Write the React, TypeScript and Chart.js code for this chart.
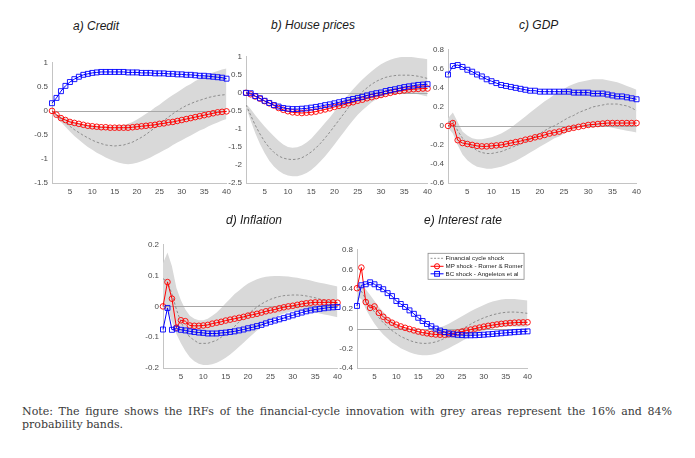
import React, { useEffect, useRef } from 'react';
import { Chart, registerables } from 'chart.js';

Chart.register(...registerables);

// horizons (quarters) and x tick labels
const horizons = [1, 2, 3, 4, 5, 6, 7, 8, 9, 10, 11, 12, 13, 14, 15, 16, 17, 18, 19, 20, 21, 22, 23, 24, 25, 26, 27, 28, 29, 30, 31, 32, 33, 34, 35, 36, 37, 38, 39, 40];
const xTicks = [5, 10, 15, 20, 25, 30, 35, 40];

// a) Credit
const creditTicks = [-1.5, -1, -0.5, 0, 0.5, 1];
const creditFin = [-0.03, -0.1, -0.17, -0.25, -0.32, -0.39, -0.45, -0.51, -0.56, -0.61, -0.65, -0.68, -0.71, -0.72, -0.73, -0.72, -0.71, -0.68, -0.65, -0.6, -0.55, -0.49, -0.42, -0.35, -0.27, -0.2, -0.13, -0.06, 0, 0.06, 0.11, 0.15, 0.19, 0.22, 0.25, 0.28, 0.3, 0.32, 0.33, 0.34];
const creditHigh = [-0.01, -0.06, -0.11, -0.15, -0.19, -0.22, -0.25, -0.27, -0.29, -0.3, -0.31, -0.32, -0.32, -0.32, -0.32, -0.31, -0.29, -0.27, -0.23, -0.18, -0.12, -0.06, 0, 0.07, 0.13, 0.2, 0.27, 0.33, 0.39, 0.45, 0.51, 0.56, 0.62, 0.67, 0.72, 0.76, 0.8, 0.83, 0.86, 0.88];
const creditLow = [-0.04, -0.13, -0.23, -0.33, -0.43, -0.52, -0.6, -0.68, -0.75, -0.81, -0.87, -0.92, -0.97, -1.01, -1.05, -1.08, -1.1, -1.11, -1.1, -1.08, -1.05, -1.01, -0.97, -0.92, -0.87, -0.82, -0.77, -0.71, -0.66, -0.61, -0.56, -0.51, -0.46, -0.41, -0.37, -0.32, -0.28, -0.24, -0.2, -0.17];
const creditMP = [0, -0.08, -0.15, -0.19, -0.23, -0.25, -0.27, -0.29, -0.31, -0.32, -0.33, -0.34, -0.34, -0.35, -0.35, -0.35, -0.35, -0.35, -0.34, -0.33, -0.32, -0.31, -0.3, -0.29, -0.27, -0.26, -0.24, -0.23, -0.21, -0.19, -0.17, -0.15, -0.13, -0.11, -0.09, -0.07, -0.05, -0.03, -0.02, -0.01];
const creditBC = [0.16, 0.27, 0.41, 0.52, 0.6, 0.66, 0.71, 0.75, 0.77, 0.79, 0.8, 0.81, 0.81, 0.81, 0.81, 0.81, 0.81, 0.8, 0.8, 0.8, 0.79, 0.79, 0.79, 0.78, 0.78, 0.78, 0.77, 0.77, 0.76, 0.76, 0.75, 0.75, 0.74, 0.73, 0.73, 0.72, 0.71, 0.7, 0.69, 0.67];

// b) House prices
const houseTicks = [-2.5, -2, -1.5, -1, -0.5, 0, 0.5, 1];
const houseFin = [-0.33, -0.62, -0.9, -1.14, -1.35, -1.52, -1.65, -1.75, -1.81, -1.84, -1.85, -1.84, -1.8, -1.73, -1.64, -1.53, -1.4, -1.25, -1.09, -0.92, -0.75, -0.58, -0.41, -0.25, -0.1, 0.03, 0.14, 0.24, 0.32, 0.38, 0.43, 0.46, 0.48, 0.49, 0.49, 0.49, 0.48, 0.46, 0.43, 0.4];
const houseHigh = [-0.3, -0.45, -0.62, -0.78, -0.93, -1.07, -1.2, -1.33, -1.43, -1.5, -1.52, -1.51, -1.46, -1.38, -1.27, -1.13, -0.98, -0.83, -0.68, -0.52, -0.36, -0.2, -0.05, 0.1, 0.24, 0.37, 0.49, 0.6, 0.7, 0.79, 0.86, 0.92, 0.96, 0.99, 1.0, 1.0, 0.99, 0.97, 0.95, 0.93];
const houseLow = [-0.4, -0.77, -1.12, -1.42, -1.67, -1.88, -2.04, -2.16, -2.24, -2.29, -2.31, -2.31, -2.28, -2.22, -2.14, -2.03, -1.9, -1.76, -1.6, -1.43, -1.26, -1.09, -0.92, -0.76, -0.61, -0.48, -0.37, -0.26, -0.18, -0.12, -0.07, -0.04, -0.02, -0.01, -0.01, -0.01, -0.02, -0.04, -0.07, -0.1];
const houseMP = [0, -0.04, -0.1, -0.16, -0.23, -0.29, -0.35, -0.42, -0.47, -0.51, -0.54, -0.55, -0.56, -0.55, -0.54, -0.52, -0.49, -0.46, -0.43, -0.39, -0.36, -0.33, -0.29, -0.26, -0.22, -0.19, -0.15, -0.12, -0.09, -0.06, -0.03, 0, 0.03, 0.05, 0.07, 0.09, 0.1, 0.11, 0.12, 0.12];
const houseBC = [0, -0.01, -0.09, -0.15, -0.22, -0.28, -0.34, -0.38, -0.42, -0.44, -0.45, -0.45, -0.44, -0.43, -0.41, -0.39, -0.37, -0.34, -0.32, -0.29, -0.26, -0.23, -0.2, -0.17, -0.14, -0.11, -0.07, -0.04, -0.01, 0.01, 0.05, 0.08, 0.1, 0.13, 0.16, 0.18, 0.2, 0.22, 0.23, 0.24];

// c) GDP
const gdpTicks = [-0.6, -0.4, -0.2, 0, 0.2, 0.4, 0.6, 0.8];
const gdpFin = [0.04, 0.05, -0.05, -0.13, -0.18, -0.22, -0.26, -0.28, -0.29, -0.29, -0.28, -0.27, -0.25, -0.23, -0.21, -0.19, -0.16, -0.14, -0.11, -0.08, -0.05, -0.02, 0, 0.03, 0.06, 0.09, 0.11, 0.14, 0.16, 0.18, 0.2, 0.21, 0.22, 0.23, 0.23, 0.23, 0.22, 0.21, 0.19, 0.16];
const gdpHigh = [0.08, 0.14, 0.04, -0.06, -0.1, -0.13, -0.14, -0.14, -0.13, -0.12, -0.1, -0.08, -0.05, -0.02, 0.02, 0.06, 0.1, 0.14, 0.18, 0.22, 0.26, 0.29, 0.33, 0.36, 0.39, 0.42, 0.44, 0.46, 0.47, 0.48, 0.49, 0.49, 0.49, 0.48, 0.47, 0.46, 0.44, 0.42, 0.4, 0.38];
const gdpLow = [-0.02, -0.08, -0.2, -0.3, -0.36, -0.4, -0.43, -0.44, -0.45, -0.45, -0.44, -0.43, -0.41, -0.39, -0.37, -0.34, -0.31, -0.28, -0.25, -0.22, -0.19, -0.16, -0.13, -0.11, -0.08, -0.06, -0.04, -0.02, -0.01, 0, 0, 0, 0, -0.01, -0.02, -0.03, -0.04, -0.05, -0.06, -0.07];
const gdpMP = [0, 0.03, -0.15, -0.18, -0.19, -0.2, -0.21, -0.215, -0.215, -0.21, -0.205, -0.2, -0.19, -0.18, -0.17, -0.16, -0.145, -0.135, -0.12, -0.11, -0.095, -0.08, -0.07, -0.06, -0.045, -0.03, -0.02, -0.01, 0, 0.01, 0.015, 0.02, 0.025, 0.03, 0.03, 0.03, 0.03, 0.03, 0.03, 0.03];
const gdpBC = [0.54, 0.63, 0.64, 0.62, 0.59, 0.57, 0.54, 0.52, 0.49, 0.47, 0.45, 0.43, 0.42, 0.41, 0.4, 0.39, 0.38, 0.37, 0.37, 0.36, 0.36, 0.36, 0.36, 0.36, 0.36, 0.36, 0.35, 0.35, 0.35, 0.35, 0.34, 0.34, 0.34, 0.33, 0.32, 0.31, 0.31, 0.3, 0.29, 0.28];

// d) Inflation
const inflTicks = [-0.2, -0.1, 0, 0.1, 0.2];
const inflFin = [0.09, 0.08, 0.04, -0.01, -0.05, -0.08, -0.1, -0.11, -0.12, -0.12, -0.12, -0.115, -0.11, -0.1, -0.09, -0.08, -0.065, -0.05, -0.037, -0.025, -0.013, -0.002, 0.008, 0.016, 0.023, 0.028, 0.032, 0.035, 0.036, 0.037, 0.037, 0.036, 0.034, 0.031, 0.028, 0.024, 0.02, 0.016, 0.013, 0.01];
const inflHigh = [0.14, 0.175, 0.13, 0.06, 0.02, -0.01, -0.03, -0.04, -0.045, -0.045, -0.04, -0.03, -0.02, -0.005, 0.01, 0.025, 0.04, 0.052, 0.064, 0.074, 0.082, 0.088, 0.093, 0.096, 0.098, 0.099, 0.099, 0.098, 0.097, 0.095, 0.093, 0.09, 0.087, 0.084, 0.08, 0.077, 0.074, 0.071, 0.068, 0.065];
const inflLow = [-0.01, -0.01, -0.05, -0.09, -0.12, -0.145, -0.165, -0.178, -0.186, -0.19, -0.19, -0.188, -0.183, -0.176, -0.167, -0.156, -0.144, -0.131, -0.118, -0.104, -0.091, -0.078, -0.066, -0.055, -0.045, -0.036, -0.029, -0.023, -0.019, -0.016, -0.015, -0.015, -0.016, -0.018, -0.02, -0.023, -0.026, -0.029, -0.032, -0.035];
const inflMP = [0, 0.079, 0.025, -0.069, -0.045, -0.048, -0.062, -0.063, -0.063, -0.062, -0.06, -0.056, -0.053, -0.05, -0.046, -0.043, -0.04, -0.037, -0.034, -0.03, -0.027, -0.024, -0.02, -0.016, -0.013, -0.01, -0.006, -0.003, 0, 0.002, 0.005, 0.008, 0.01, 0.012, 0.013, 0.013, 0.013, 0.013, 0.013, 0.012];
const inflBC = [-0.075, -0.005, -0.076, -0.072, -0.076, -0.078, -0.081, -0.083, -0.085, -0.086, -0.088, -0.088, -0.088, -0.086, -0.085, -0.083, -0.081, -0.078, -0.075, -0.071, -0.068, -0.064, -0.06, -0.055, -0.05, -0.046, -0.042, -0.038, -0.033, -0.029, -0.024, -0.02, -0.016, -0.013, -0.01, -0.008, -0.006, -0.004, -0.003, -0.002];

// e) Interest rate
const rateTicks = [-0.4, -0.2, 0, 0.2, 0.4, 0.6, 0.8];
const rateFin = [0.4, 0.38, 0.3, 0.23, 0.17, 0.11, 0.06, 0.02, -0.02, -0.05, -0.08, -0.1, -0.12, -0.135, -0.145, -0.15, -0.15, -0.145, -0.135, -0.12, -0.1, -0.08, -0.055, -0.03, -0.005, 0.02, 0.045, 0.07, 0.09, 0.11, 0.125, 0.14, 0.15, 0.16, 0.165, 0.168, 0.168, 0.165, 0.16, 0.155];
const rateHigh = [0.45, 0.45, 0.4, 0.34, 0.28, 0.22, 0.17, 0.12, 0.08, 0.05, 0.02, 0, -0.02, -0.03, -0.035, -0.035, -0.03, -0.02, -0.005, 0.01, 0.03, 0.05, 0.075, 0.1, 0.125, 0.15, 0.175, 0.2, 0.22, 0.24, 0.26, 0.275, 0.285, 0.295, 0.3, 0.3, 0.3, 0.295, 0.29, 0.285];
const rateLow = [0.32, 0.3, 0.2, 0.12, 0.05, -0.01, -0.06, -0.1, -0.14, -0.17, -0.2, -0.22, -0.24, -0.255, -0.265, -0.27, -0.27, -0.265, -0.255, -0.24, -0.22, -0.2, -0.175, -0.15, -0.125, -0.1, -0.08, -0.06, -0.04, -0.025, -0.01, 0, 0.01, 0.015, 0.02, 0.022, 0.022, 0.02, 0.018, 0.015];
const rateMP = [0.41, 0.62, 0.27, 0.21, 0.225, 0.16, 0.12, 0.085, 0.06, 0.04, 0.022, 0.008, -0.005, -0.018, -0.03, -0.04, -0.048, -0.055, -0.06, -0.062, -0.062, -0.058, -0.05, -0.04, -0.03, -0.02, -0.01, 0, 0.01, 0.02, 0.028, 0.035, 0.042, 0.048, 0.053, 0.057, 0.06, 0.062, 0.063, 0.064];
const rateBC = [0.23, 0.44, 0.45, 0.47, 0.45, 0.42, 0.4, 0.36, 0.33, 0.28, 0.25, 0.22, 0.185, 0.15, 0.11, 0.077, 0.047, 0.024, 0, -0.02, -0.035, -0.048, -0.058, -0.063, -0.066, -0.068, -0.068, -0.067, -0.065, -0.062, -0.058, -0.055, -0.051, -0.047, -0.043, -0.04, -0.036, -0.033, -0.03, -0.028];

const legendLabels = ['Financial cycle shock', 'MP shock - Romer & Romer', 'BC shock - Angeletos et al'];

const RED = '#ff0000';
const BLUE = '#0000ff';
const GREY = '#7a7a7a';
const BAND = '#d9d9d9';
const SANS = '"Liberation Sans", Arial, sans-serif';

const Y_AXIS_W = 30;
const X_AXIS_H = 16;
const PAD = 8;

const toPoints = (vals: number[]) => horizons.map((h, i) => ({ x: h, y: vals[i] }));

// zero line drawn over the band but under the curves
const zeroLine = {
  id: 'zeroLine',
  beforeDatasetDraw(chart: any, args: any) {
    if (args.index !== 2) return;
    const { ctx, chartArea } = chart;
    const y = Math.round(chart.scales.y.getPixelForValue(0)) + 0.5;
    ctx.save();
    ctx.strokeStyle = '#a8a8a8';
    ctx.lineWidth = 1;
    ctx.beginPath();
    ctx.moveTo(chartArea.left, y);
    ctx.lineTo(chartArea.right, y);
    ctx.stroke();
    ctx.restore();
  },
};

// MATLAB-style boxed legend in the upper right of the plot
const boxLegend = {
  id: 'boxLegend',
  afterDatasetsDraw(chart: any) {
    const { ctx, chartArea } = chart;
    const w = 96;
    const h = 26;
    const left = chartArea.right - 4 - w;
    const top = chartArea.top + 3;
    ctx.save();
    ctx.fillStyle = '#ffffff';
    ctx.fillRect(left, top, w, h);
    ctx.strokeStyle = '#8a8a8a';
    ctx.lineWidth = 0.8;
    ctx.strokeRect(left + 0.5, top + 0.5, w, h);
    ctx.font = `6.2px ${SANS}`;
    ctx.textBaseline = 'middle';
    const rows = [5.5, 13.5, 21];
    const colors = [GREY, RED, BLUE];
    rows.forEach((dy, i) => {
      const y = top + dy;
      const x0 = left + 3;
      const x1 = left + 16;
      ctx.strokeStyle = colors[i];
      ctx.lineWidth = i === 0 ? 0.8 : 1;
      ctx.setLineDash(i === 0 ? [2, 1.5] : []);
      ctx.beginPath();
      ctx.moveTo(x0, y);
      ctx.lineTo(x1, y);
      ctx.stroke();
      ctx.setLineDash([]);
      const cx = (x0 + x1) / 2;
      if (i === 1) {
        ctx.beginPath();
        ctx.arc(cx, y, 2.6, 0, Math.PI * 2);
        ctx.stroke();
      } else if (i === 2) {
        ctx.strokeRect(cx - 2.4, y - 2.4, 4.8, 4.8);
      }
      ctx.fillStyle = '#222222';
      ctx.fillText(legendLabels[i], left + 18, y + 0.3);
    });
    ctx.restore();
  },
};

interface PanelProps {
  title: string;
  titleLeft: number;
  titleTop: number;
  area: [number, number, number, number]; // plot area: left, top, width, height
  yMin: number;
  yMax: number;
  yTicks: number[];
  fin: number[];
  high: number[];
  low: number[];
  mp: number[];
  bc: number[];
  legend?: boolean;
}

const Panel: React.FC<PanelProps> = (p) => {
  const canvasRef = useRef<HTMLCanvasElement | null>(null);

  useEffect(() => {
    const canvas = canvasRef.current;
    if (!canvas) return;

    const chart = new Chart(canvas, {
      type: 'line',
      data: {
        datasets: [
          { label: 'high', data: toPoints(p.high), fill: '+1', backgroundColor: BAND, borderWidth: 0, pointRadius: 0, order: 5 },
          { label: 'low', data: toPoints(p.low), fill: false, borderWidth: 0, pointRadius: 0, order: 6 },
          {
            label: legendLabels[0],
            data: toPoints(p.fin),
            borderColor: GREY,
            borderWidth: 0.8,
            borderDash: [2.5, 2],
            pointRadius: 0,
            fill: false,
            order: 3,
          },
          {
            label: legendLabels[1],
            data: toPoints(p.mp),
            borderColor: RED,
            borderWidth: 1,
            pointStyle: 'circle',
            pointRadius: 2.8,
            pointBorderWidth: 0.9,
            pointBorderColor: RED,
            pointBackgroundColor: 'rgba(0,0,0,0)',
            fill: false,
            clip: false,
            order: 2,
          },
          {
            label: legendLabels[2],
            data: toPoints(p.bc),
            borderColor: BLUE,
            borderWidth: 1,
            pointStyle: 'rect',
            pointRadius: 3.5,
            pointBorderWidth: 0.9,
            pointBorderColor: BLUE,
            pointBackgroundColor: 'rgba(0,0,0,0)',
            fill: false,
            clip: false,
            order: 1,
          },
        ],
      },
      options: {
        responsive: true,
        maintainAspectRatio: false,
        animation: false,
        events: [],
        layout: { padding: { top: PAD, right: PAD, left: 0, bottom: 0 } },
        plugins: { legend: { display: false }, tooltip: { enabled: false } },
        elements: { line: { tension: 0 } },
        scales: {
          x: {
            type: 'linear',
            min: 1,
            max: 40,
            afterBuildTicks: (s: any) => {
              s.ticks = xTicks.map((v) => ({ value: v }));
            },
            afterFit: (s: any) => {
              s.height = X_AXIS_H;
            },
            grid: { display: false, drawTicks: false },
            border: { display: true, color: '#c4c4c4', width: 1 },
            ticks: { padding: 4, color: '#4a4a4a', font: { family: SANS, size: 8 }, maxRotation: 0, autoSkip: false },
          },
          y: {
            min: p.yMin,
            max: p.yMax,
            afterBuildTicks: (s: any) => {
              s.ticks = p.yTicks.map((v) => ({ value: v }));
            },
            afterFit: (s: any) => {
              s.width = Y_AXIS_W;
            },
            grid: { display: false, drawTicks: false },
            border: { display: true, color: '#c4c4c4', width: 1 },
            ticks: {
              padding: 4,
              color: '#4a4a4a',
              font: { family: SANS, size: 8 },
              autoSkip: false,
              callback: (v: any) => String(v),
            },
          },
        },
      },
      plugins: p.legend ? [zeroLine, boxLegend] : [zeroLine],
    } as any);

    return () => {
      chart.destroy();
    };
  }, []);

  const [l, t, w, h] = p.area;
  return (
    <>
      <div
        style={{
          position: 'absolute',
          left: p.titleLeft,
          top: p.titleTop,
          fontFamily: SANS,
          fontStyle: 'italic',
          fontSize: 12,
          lineHeight: '12px',
          color: '#1a1a1a',
          whiteSpace: 'nowrap',
        }}
      >
        {p.title}
      </div>
      <div
        style={{
          position: 'absolute',
          left: l - Y_AXIS_W,
          top: t - PAD,
          width: w + Y_AXIS_W + PAD,
          height: h + PAD + X_AXIS_H,
        }}
      >
        <canvas ref={canvasRef} />
      </div>
    </>
  );
};

const App: React.FC = () => {
  return (
    <div style={{ position: 'absolute', left: 0, top: 0, width: 695, height: 458, background: '#ffffff', overflow: 'hidden' }}>
      <Panel title="a) Credit" titleLeft={73} titleTop={20} area={[52, 62, 175, 121]} yMin={-1.5} yMax={1} yTicks={creditTicks}
        fin={creditFin} high={creditHigh} low={creditLow} mp={creditMP} bc={creditBC} />
      <Panel title="b) House prices" titleLeft={271} titleTop={19} area={[246, 56, 182, 127]} yMin={-2.5} yMax={1} yTicks={houseTicks}
        fin={houseFin} high={houseHigh} low={houseLow} mp={houseMP} bc={houseBC} />
      <Panel title="c) GDP" titleLeft={519} titleTop={19} area={[448, 49, 189, 134]} yMin={-0.6} yMax={0.8} yTicks={gdpTicks}
        fin={gdpFin} high={gdpHigh} low={gdpLow} mp={gdpMP} bc={gdpBC} />
      <Panel title="d) Inflation" titleLeft={226} titleTop={214} area={[163, 244, 175, 124]} yMin={-0.2} yMax={0.2} yTicks={inflTicks}
        fin={inflFin} high={inflHigh} low={inflLow} mp={inflMP} bc={inflBC} />
      <Panel title="e) Interest rate" titleLeft={424} titleTop={214} area={[357, 249, 171, 119]} yMin={-0.4} yMax={0.8} yTicks={rateTicks}
        fin={rateFin} high={rateHigh} low={rateLow} mp={rateMP} bc={rateBC} legend />
      <div
        style={{
          position: 'absolute',
          left: 22,
          top: 405,
          width: 650,
          fontFamily: '"DejaVu Serif", "Liberation Serif", serif',
          fontSize: 11,
          lineHeight: '13px',
          color: '#3a3a3a',
        }}
      >
        <div style={{ textAlign: 'justify', textAlignLast: 'justify' }}>
          Note: The figure shows the IRFs of the financial-cycle innovation with grey areas represent the 16% and 84%
        </div>
        <div>probability bands.</div>
      </div>
    </div>
  );
};

export default App;
